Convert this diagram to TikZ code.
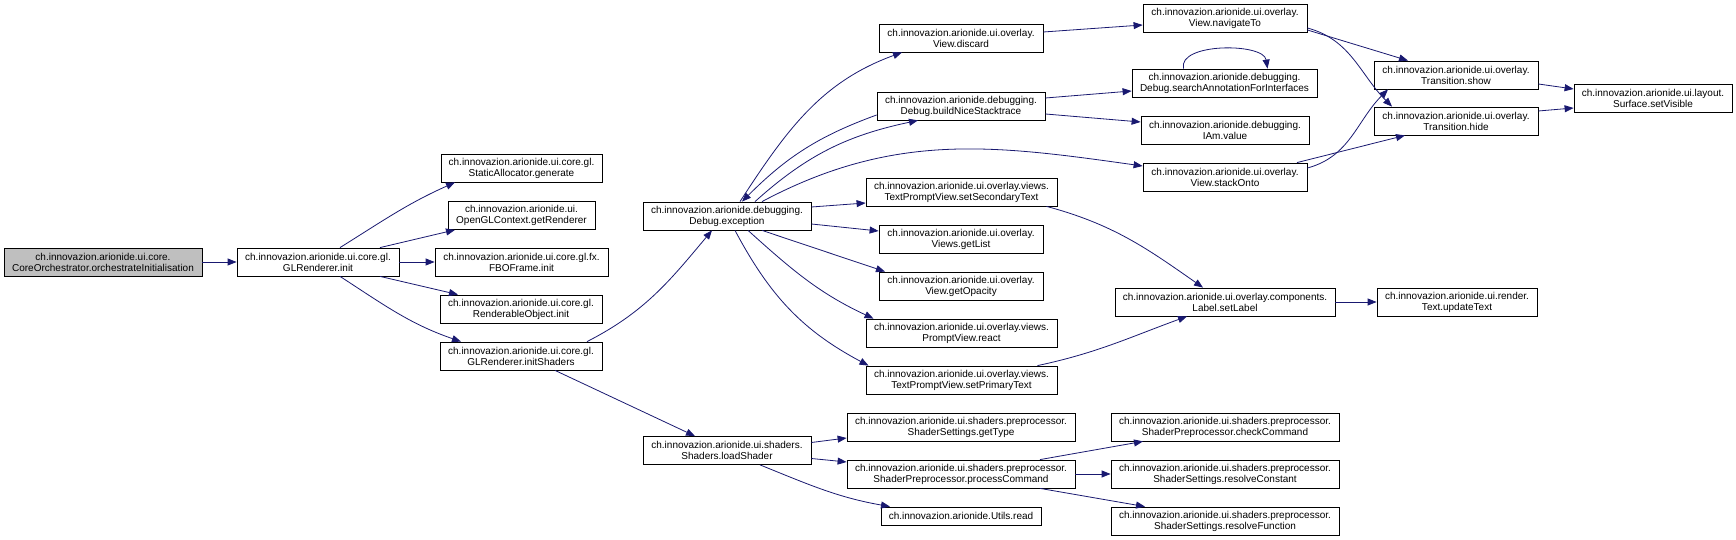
\documentclass[tikz,border=0pt]{standalone}
\usepackage{fontspec}
\setmainfont{Liberation Sans}
\usetikzlibrary{arrows.meta}
\definecolor{callblue}{RGB}{25,25,112}

\begin{document}
\begin{tikzpicture}[
    x=1pt, y=1pt,
    func/.style={draw=black, rectangle, align=center, line width=0.8pt, inner sep=1pt,
                 minimum height=28pt, font=\fontsize{10}{11}\selectfont},
    focus/.style={func, fill=black!25},
    call/.style={-{Triangle[length=9pt,width=7pt]}, draw=callblue, line width=0.8pt}
]
  \useasboundingbox (0,0) rectangle (1736,540);

  % caller and first level
  \node[focus, minimum width=198pt] (root) at (103,278) {ch.innovazion.arionide.ui.core.\\CoreOrchestrator.orchestrateInitialisation};
  \node[func, minimum width=162pt] (glinit) at (318,278) {ch.innovazion.arionide.ui.core.gl.\\GLRenderer.init};

  \node[func, minimum width=161pt] (staticalloc) at (521.5,372) {ch.innovazion.arionide.ui.core.gl.\\StaticAllocator.generate};
  \node[func, minimum width=147pt] (oglctx) at (521.5,324.5) {ch.innovazion.arionide.ui.\\OpenGLContext.getRenderer};
  \node[func, minimum width=173pt] (fboframe) at (521.5,278) {ch.innovazion.arionide.ui.core.gl.fx.\\FBOFrame.init};
  \node[func, minimum width=162pt] (renderable) at (521,231) {ch.innovazion.arionide.ui.core.gl.\\RenderableObject.init};
  \node[func, minimum width=162pt] (initshaders) at (521,184) {ch.innovazion.arionide.ui.core.gl.\\GLRenderer.initShaders};

  \node[func, minimum width=168pt] (dbgexc) at (727,324) {ch.innovazion.arionide.debugging.\\Debug.exception};
  \node[func, minimum width=168pt] (loadshader) at (727,89.5) {ch.innovazion.arionide.ui.shaders.\\Shaders.loadShader};

  % third column
  \node[func, minimum width=164pt] (discard) at (961,502) {ch.innovazion.arionide.ui.overlay.\\View.discard};
  \node[func, minimum width=168pt] (buildnice) at (961,434) {ch.innovazion.arionide.debugging.\\Debug.buildNiceStacktrace};
  \node[func, minimum width=191pt] (setsecondary) at (961.5,348) {ch.innovazion.arionide.ui.overlay.views.\\TextPromptView.setSecondaryText};
  \node[func, minimum width=164pt] (getlist) at (961,301) {ch.innovazion.arionide.ui.overlay.\\Views.getList};
  \node[func, minimum width=164pt] (getopacity) at (961,254) {ch.innovazion.arionide.ui.overlay.\\View.getOpacity};
  \node[func, minimum width=191pt] (react) at (961.5,207) {ch.innovazion.arionide.ui.overlay.views.\\PromptView.react};
  \node[func, minimum width=191pt] (setprimary) at (961.5,160) {ch.innovazion.arionide.ui.overlay.views.\\TextPromptView.setPrimaryText};
  \node[func, minimum width=228pt] (gettype) at (961,113) {ch.innovazion.arionide.ui.shaders.preprocessor.\\ShaderSettings.getType};
  \node[func, minimum width=228pt] (processcmd) at (961,66) {ch.innovazion.arionide.ui.shaders.preprocessor.\\ShaderPreprocessor.processCommand};
  \node[func, minimum width=160pt, minimum height=18pt] (utilsread) at (961,24) {ch.innovazion.arionide.Utils.read};

  % fourth column
  \node[func, minimum width=164pt] (navigateto) at (1225,522) {ch.innovazion.arionide.ui.overlay.\\View.navigateTo};
  \node[func, minimum width=185pt] (searchanno) at (1224.5,457) {ch.innovazion.arionide.debugging.\\Debug.searchAnnotationForInterfaces};
  \node[func, minimum width=168pt] (iamvalue) at (1225,410) {ch.innovazion.arionide.debugging.\\IAm.value};
  \node[func, minimum width=164pt] (stackonto) at (1225,363) {ch.innovazion.arionide.ui.overlay.\\View.stackOnto};
  \node[func, minimum width=220pt] (setlabel) at (1225,238) {ch.innovazion.arionide.ui.overlay.components.\\Label.setLabel};
  \node[func, minimum width=228pt] (checkcmd) at (1225,113) {ch.innovazion.arionide.ui.shaders.preprocessor.\\ShaderPreprocessor.checkCommand};
  \node[func, minimum width=228pt] (resolveconst) at (1225,66) {ch.innovazion.arionide.ui.shaders.preprocessor.\\ShaderSettings.resolveConstant};
  \node[func, minimum width=228pt] (resolvefunc) at (1225,19) {ch.innovazion.arionide.ui.shaders.preprocessor.\\ShaderSettings.resolveFunction};

  % last columns
  \node[func, minimum width=164pt] (tshow) at (1456,465) {ch.innovazion.arionide.ui.overlay.\\Transition.show};
  \node[func, minimum width=164pt] (thide) at (1456,419) {ch.innovazion.arionide.ui.overlay.\\Transition.hide};
  \node[func, minimum width=160pt] (updatetext) at (1457,238) {ch.innovazion.arionide.ui.render.\\Text.updateText};
  \node[func, minimum width=158pt] (setvisible) at (1653,442) {ch.innovazion.arionide.ui.layout.\\Surface.setVisible};

  % calls from the renderer
  \draw[call] (root) -- (glinit);
  \draw[call] ([xshift=22pt]glinit.north) to[out=32,in=204] ([xshift=-66.5pt]staticalloc.south);
  \draw[call] ([xshift=62pt]glinit.north) -- ([xshift=-66.5pt]oglctx.south);
  \draw[call] (glinit) -- (fboframe);
  \draw[call] ([xshift=62pt]glinit.south) -- ([xshift=-63pt]renderable.north);
  \draw[call] ([xshift=22pt]glinit.south) to[out=-33,in=161] ([xshift=-60pt]initshaders.north);
  \draw[call] ([xshift=66pt]initshaders.north) to[out=27,in=230] ([xshift=-15pt]dbgexc.south);
  \draw[call] ([xshift=34pt]initshaders.south) -- ([xshift=-32pt]loadshader.north);

  % calls from Debug.exception
  \draw[call] ([xshift=13pt]dbgexc.north) to[out=57,in=200] ([xshift=-59pt]discard.south);
  \draw[call] ([yshift=-9pt]buildnice.west) to[out=200,in=45] ([xshift=15pt]dbgexc.north);
  \draw[call] ([xshift=28pt]dbgexc.north) to[out=42,in=192] ([xshift=-43pt]buildnice.south);
  \draw[call] ([xshift=35pt]dbgexc.north) to[out=28,in=172] ([yshift=11pt]stackonto.west);
  \draw[call] ([yshift=9pt]dbgexc.east) -- ([yshift=-11pt]setsecondary.west);
  \draw[call] ([yshift=-8pt]dbgexc.east) -- ([yshift=8pt]getlist.west);
  \draw[call] ([xshift=35pt]dbgexc.south) -- ([xshift=-76pt]getopacity.north);
  \draw[call] ([xshift=21pt]dbgexc.south) to[out=-42,in=155] ([xshift=-88pt]react.north);
  \draw[call] ([xshift=8pt]dbgexc.south) to[out=-62,in=152] ([xshift=-93pt]setprimary.north);

  % overlay and debugging calls
  \draw[call] ([yshift=6pt]discard.east) -- ([yshift=-7pt]navigateto.west);
  \draw[call] ([yshift=8pt]buildnice.east) -- ([yshift=-8pt]searchanno.west);
  \draw[call] ([yshift=-8pt]buildnice.east) -- ([yshift=8pt]iamvalue.west);
  \draw[call] ([xshift=-41pt]searchanno.north) .. controls +(-6,26) and +(-4,26) .. ([xshift=43pt]searchanno.north);
  \draw[call] ([yshift=-12pt]navigateto.east) -- ([xshift=-48pt]tshow.north);
  \draw[call] ([yshift=-10pt]navigateto.east) to[out=-15,in=135] ([xshift=-64pt]thide.north);
  \draw[call] ([yshift=9pt]stackonto.east) to[out=15,in=225] ([xshift=-68pt]tshow.south);
  \draw[call] ([xshift=72pt]stackonto.north) -- ([xshift=-51pt]thide.south);
  \draw[call] ([yshift=-9pt]tshow.east) -- ([yshift=9pt]setvisible.west);
  \draw[call] ([yshift=10pt]thide.east) -- ([yshift=-10pt]setvisible.west);
  \draw[call] ([xshift=85pt]setsecondary.south) to[out=-15,in=145] ([xshift=-22pt]setlabel.north);
  \draw[call] ([xshift=76pt]setprimary.north) to[out=12,in=200] ([xshift=-38pt]setlabel.south);
  \draw[call] (setlabel) -- (updatetext);

  % shader calls
  \draw[call] ([yshift=8pt]loadshader.east) -- ([yshift=-11pt]gettype.west);
  \draw[call] ([yshift=-8pt]loadshader.east) -- ([yshift=12pt]processcmd.west);
  \draw[call] ([xshift=33pt]loadshader.south) to[out=-22,in=170] ([xshift=-71pt]utilsread.north);
  \draw[call] ([xshift=79pt]processcmd.north) -- ([xshift=-82pt]checkcmd.south);
  \draw[call] (processcmd) -- (resolveconst);
  \draw[call] ([xshift=79pt]processcmd.south) -- ([xshift=-80pt]resolvefunc.north);
\end{tikzpicture}
\end{document}
